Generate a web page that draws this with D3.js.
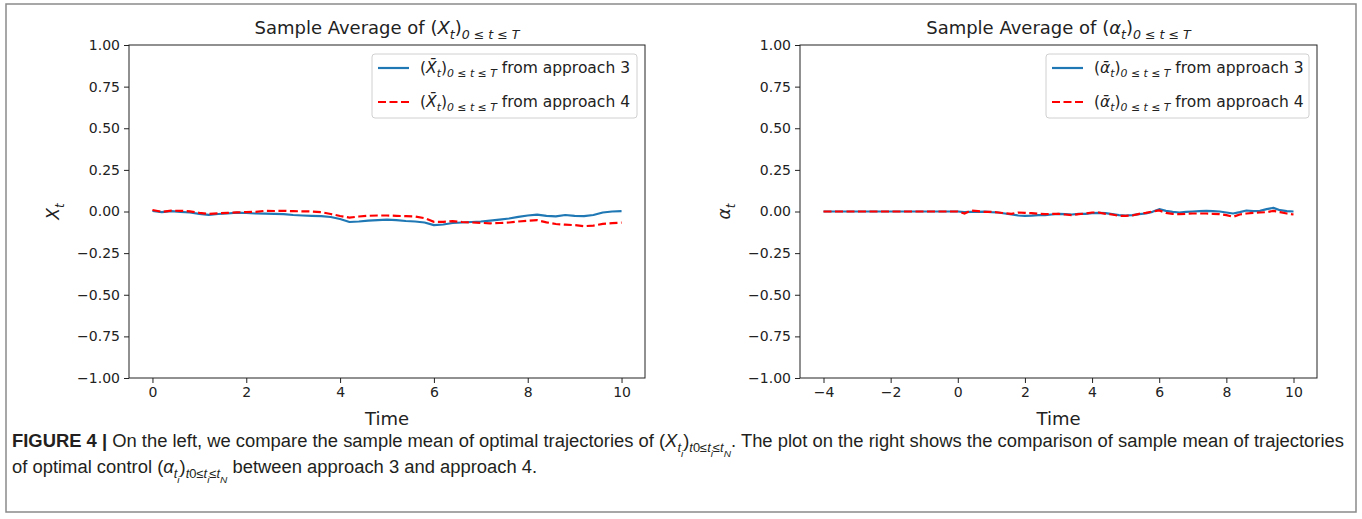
<!DOCTYPE html>
<html>
<head>
<meta charset="utf-8">
<title>Sample Average</title>
<script src="https://cdn.jsdelivr.net/npm/d3@7/dist/d3.min.js"></script>
<style>
  body { margin: 0; background: #fff; }
</style>
</head>
<body>
<div id="container"></div>

<script>
// Données
const tLeft = [0, 0.2, 0.4, 0.6, 0.8, 1, 1.2, 1.4, 1.6, 1.8, 2, 2.2, 2.4, 2.6, 2.8, 3, 3.2, 3.4, 3.6, 3.8,
  4, 4.2, 4.4, 4.6, 4.8, 5, 5.2, 5.4, 5.6, 5.8, 6, 6.2, 6.4, 6.6, 6.8, 7, 7.2, 7.4, 7.6, 7.8,
  8, 8.2, 8.4, 8.6, 8.8, 9, 9.2, 9.4, 9.6, 9.8, 10];

const xApproach3 = [0.003, -0.004, 0.002, -0.002, -0.006, -0.014, -0.02, -0.015, -0.012, -0.007,
  -0.009, -0.012, -0.013, -0.014, -0.016, -0.021, -0.024, -0.026, -0.028, -0.033,
  -0.045, -0.063, -0.06, -0.055, -0.052, -0.049, -0.052, -0.057, -0.06, -0.066,
  -0.082, -0.078, -0.069, -0.066, -0.063, -0.06, -0.055, -0.049, -0.042, -0.032,
  -0.024, -0.019, -0.026, -0.029, -0.021, -0.026, -0.028, -0.021, -0.006, 0.0, 0.002];

const xApproach4 = [0.009, -0.002, 0.005, 0.004, 0.001, -0.008, -0.014, -0.011, -0.008, -0.005,
  -0.004, -0.002, 0.004, 0.003, 0.004, 0.002, 0.001, 0.0, -0.004, -0.015,
  -0.027, -0.037, -0.03, -0.026, -0.024, -0.024, -0.026, -0.028, -0.03, -0.04,
  -0.062, -0.062, -0.058, -0.063, -0.066, -0.068, -0.071, -0.069, -0.066, -0.06,
  -0.056, -0.052, -0.065, -0.075, -0.079, -0.082, -0.088, -0.085, -0.074, -0.07, -0.067];

const tRight = [-4, -3.8, -3.6, -3.4, -3.2, -3, -2.8, -2.6, -2.4, -2.2, -2, -1.8, -1.6, -1.4, -1.2, -1,
  -0.8, -0.6, -0.4, -0.2, 0, 0.2, 0.4, 0.6, 0.8, 1, 1.2, 1.4, 1.6, 1.8, 2, 2.2, 2.4, 2.6, 2.8, 3,
  3.2, 3.4, 3.6, 3.8, 4, 4.2, 4.4, 4.6, 4.8, 5, 5.2, 5.4, 5.6, 5.8, 6, 6.2, 6.4, 6.6, 6.8, 7,
  7.2, 7.4, 7.6, 7.8, 8, 8.2, 8.4, 8.6, 8.8, 9, 9.2, 9.4, 9.6, 9.8, 10];

const aApproach3 = [0, 0, 0, 0, 0, 0, 0, 0, 0, 0, 0, 0, 0, 0, 0, 0, 0, 0, 0, 0,
  0.0, -0.004, -0.002, -0.002, -0.001, -0.004, -0.006, -0.012, -0.018, -0.024,
  -0.026, -0.025, -0.022, -0.022, -0.018, -0.014, -0.016, -0.018, -0.014, -0.014,
  -0.01, -0.008, -0.01, -0.016, -0.022, -0.024, -0.022, -0.016, -0.012, -0.002,
  0.014, 0.004, -0.002, -0.006, -0.002, 0.0, 0.002, 0.004, 0.002, 0.0,
  -0.006, -0.012, -0.004, 0.006, 0.002, 0.004, 0.014, 0.022, 0.008, 0.002, 0.0];

const aApproach4 = [0, 0, 0, 0, 0, 0, 0, 0, 0, 0, 0, 0, 0, 0, 0, 0, 0, 0, 0, 0,
  0.0, -0.012, 0.006, 0.002, -0.002, -0.002, -0.006, -0.01, -0.014, -0.006,
  -0.008, -0.01, -0.014, -0.016, -0.014, -0.014, -0.018, -0.022, -0.016, -0.012,
  -0.006, -0.006, -0.014, -0.018, -0.026, -0.026, -0.024, -0.014, -0.008, 0.0,
  0.006, -0.008, -0.014, -0.016, -0.014, -0.012, -0.012, -0.012, -0.014, -0.016,
  -0.022, -0.032, -0.018, -0.012, -0.008, -0.006, -0.004, 0.004, -0.004, -0.012, -0.018];

const yTicks = [-1, -0.75, -0.5, -0.25, 0, 0.25, 0.5, 0.75, 1];
const xTicksLeft = [0, 2, 4, 6, 8, 10];
const xTicksRight = [-4, -2, 0, 2, 4, 6, 8, 10];

// Dimensions
const width = 1362;
const height = 519;
const plotTop = 45;
const plotBottom = 378;
const mplFont = "'DejaVu Sans', sans-serif";

const svg = d3.select("#container").append("svg")
    .attr("width", width)
    .attr("height", height);

svg.append("rect")
    .attr("width", width).attr("height", height)
    .attr("fill", "#fff");

// cadre de la figure
svg.append("rect")
    .attr("x", 6).attr("y", 4)
    .attr("width", 1350).attr("height", 508)
    .attr("fill", "none")
    .attr("stroke", "#8a8a8a")
    .attr("stroke-width", 1.5);

// texte avec indices et italiques : parts = [{t, i, sub, b}]
function rich(text, parts, size) {
    let level = 0;
    parts.forEach(p => {
        const lv = p.sub || 0;
        const ts = text.append("tspan").text(p.t);
        if (lv !== level) {
            ts.attr("dy", (lv - level) * size * 0.28);
            level = lv;
        }
        if (lv > 0) ts.style("font-size", (size * (lv === 1 ? 0.7 : 0.55)) + "px");
        if (p.i) ts.style("font-style", "italic");
        if (p.b) ts.style("font-weight", "bold");
    });
    return text;
}

function panel(opt) {
    const x = d3.scaleLinear().domain(opt.xDomain).range([opt.left, opt.right]);
    const y = d3.scaleLinear().domain([-1, 1]).range([plotBottom, plotTop]);
    const g = svg.append("g");

    const line = d3.line()
        .x((d, i) => x(opt.t[i]))
        .y(d => y(d));

    g.append("path")
        .datum(opt.s3)
        .attr("d", line)
        .attr("fill", "none")
        .attr("stroke", "#1f77b4")
        .attr("stroke-width", 2.2)
        .attr("stroke-linejoin", "round");

    g.append("path")
        .datum(opt.s4)
        .attr("d", line)
        .attr("fill", "none")
        .attr("stroke", "#ff0000")
        .attr("stroke-width", 2.2)
        .attr("stroke-dasharray", "8,3.5");

    // axes
    const xAxis = g.append("g")
        .attr("transform", `translate(0,${plotBottom})`)
        .call(d3.axisBottom(x).tickValues(opt.xTicks).tickSize(5).tickSizeOuter(0).tickPadding(4).tickFormat(d3.format("d")));
    const yAxis = g.append("g")
        .attr("transform", `translate(${opt.left},0)`)
        .call(d3.axisLeft(y).tickValues(yTicks).tickSize(5).tickSizeOuter(0).tickPadding(4).tickFormat(d3.format(".2f")));
    [xAxis, yAxis].forEach(a => {
        a.select(".domain").remove();
        a.selectAll("text")
            .style("font-family", mplFont)
            .style("font-size", "14px")
            .attr("fill", "#222");
        a.selectAll("line").attr("stroke", "#222");
    });

    g.append("rect")
        .attr("x", opt.left).attr("y", plotTop)
        .attr("width", opt.right - opt.left).attr("height", plotBottom - plotTop)
        .attr("fill", "none")
        .attr("stroke", "#222")
        .attr("stroke-width", 1);

    // titre
    rich(g.append("text")
        .attr("x", (opt.left + opt.right) / 2)
        .attr("y", 34)
        .attr("text-anchor", "middle")
        .style("font-family", mplFont)
        .style("font-size", "18px")
        .attr("fill", "#222"), opt.title, 18);

    // Time
    g.append("text")
        .attr("x", (opt.left + opt.right) / 2)
        .attr("y", 425)
        .attr("text-anchor", "middle")
        .style("font-family", mplFont)
        .style("font-size", "18px")
        .attr("fill", "#222")
        .text("Time");

    // label y
    rich(g.append("text")
        .attr("transform", `translate(${opt.left - 70},${(plotTop + plotBottom) / 2}) rotate(-90)`)
        .attr("text-anchor", "middle")
        .style("font-family", mplFont)
        .style("font-size", "17px")
        .attr("fill", "#222"), opt.ylabel, 17);

    // Légende
    const lg = g.append("g").attr("transform", `translate(${opt.legendX},54)`);
    lg.append("rect")
        .attr("width", opt.legendW).attr("height", 64)
        .attr("rx", 3)
        .attr("fill", "#fff")
        .attr("fill-opacity", 0.8)
        .attr("stroke", "#d0d0d0");
    const entries = [
        {color: "#1f77b4", dash: null, label: "from approach 3"},
        {color: "#ff0000", dash: "8,3.5", label: "from approach 4"}
    ];
    entries.forEach((e, i) => {
        const yy = 14 + i * 34;
        lg.append("line")
            .attr("x1", 6).attr("x2", 37)
            .attr("y1", yy).attr("y2", yy)
            .attr("stroke", e.color)
            .attr("stroke-width", 2.2)
            .attr("stroke-dasharray", e.dash);
        rich(lg.append("text")
            .attr("x", 48).attr("y", yy + 5)
            .style("font-family", mplFont)
            .style("font-size", "15.5px")
            .attr("fill", "#222"),
            opt.legendSym.concat([{t: " " + e.label}]), 15.5);
    });
}

panel({
    left: 129, right: 645,
    xDomain: [-0.5, 10.5],
    xTicks: xTicksLeft,
    t: tLeft, s3: xApproach3, s4: xApproach4,
    title: [{t: "Sample Average of ("}, {t: "X", i: true}, {t: "t", i: true, sub: 1}, {t: ")"}, {t: "0 ≤ t ≤ T", i: true, sub: 1}],
    ylabel: [{t: "X", i: true}, {t: "t", i: true, sub: 1}],
    legendX: 372, legendW: 265,
    legendSym: [{t: "("}, {t: "X̄", i: true}, {t: "t", i: true, sub: 1}, {t: ")"}, {t: "0 ≤ t ≤ T", i: true, sub: 1}]
});

panel({
    left: 800, right: 1317,
    xDomain: [-4.7, 10.7],
    xTicks: xTicksRight,
    t: tRight, s3: aApproach3, s4: aApproach4,
    title: [{t: "Sample Average of ("}, {t: "α", i: true}, {t: "t", i: true, sub: 1}, {t: ")"}, {t: "0 ≤ t ≤ T", i: true, sub: 1}],
    ylabel: [{t: "α", i: true}, {t: "t", i: true, sub: 1}],
    legendX: 1046, legendW: 263,
    legendSym: [{t: "("}, {t: "ᾱ", i: true}, {t: "t", i: true, sub: 1}, {t: ")"}, {t: "0 ≤ t ≤ T", i: true, sub: 1}]
});

// Légende de la figure
const capFont = "'Liberation Sans', Arial, sans-serif";
const cap1 = svg.append("text")
    .attr("x", 0).attr("y", 0)
    .style("font-family", capFont)
    .style("font-size", "18px")
    .attr("fill", "#231f20");
rich(cap1, [
    {t: "FIGURE 4 | ", b: true},
    {t: "On the left, we compare the sample mean of optimal trajectories of ("},
    {t: "X", i: true}, {t: "t", i: true, sub: 1}, {t: "i", i: true, sub: 2},
    {t: ")", sub: 0}, {t: "t", i: true, sub: 1}, {t: "0", sub: 1}, {t: "≤", sub: 1}, {t: "t", i: true, sub: 1},
    {t: "i", i: true, sub: 2}, {t: "≤", sub: 1}, {t: "t", i: true, sub: 1}, {t: "N", i: true, sub: 2},
    {t: ". The plot on the right shows the comparison of sample mean of trajectories", sub: 0}
], 18);

const cap2 = svg.append("text")
    .attr("x", 0).attr("y", 0)
    .style("font-family", capFont)
    .style("font-size", "18px")
    .attr("fill", "#231f20");
rich(cap2, [
    {t: "of optimal control ("},
    {t: "α", i: true}, {t: "t", i: true, sub: 1}, {t: "i", i: true, sub: 2},
    {t: ")", sub: 0}, {t: "t", i: true, sub: 1}, {t: "0", sub: 1}, {t: "≤", sub: 1}, {t: "t", i: true, sub: 1},
    {t: "i", i: true, sub: 2}, {t: "≤", sub: 1}, {t: "t", i: true, sub: 1}, {t: "N", i: true, sub: 2},
    {t: " between approach 3 and approach 4.", sub: 0}
], 18);

// ajuster la largeur de la première ligne à celle de la figure
const k = 1333 / cap1.node().getBBox().width;
cap1.attr("transform", `translate(12,447) scale(${k},1)`);
cap2.attr("transform", `translate(12,473) scale(${k},1)`);
</script>
</body>
</html>
